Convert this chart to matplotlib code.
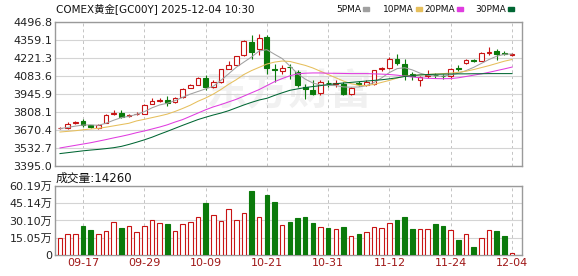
import matplotlib
matplotlib.use('Agg')
import matplotlib.pyplot as plt
from matplotlib.patches import Rectangle
import numpy as np

plt.rcParams['font.family'] = ['DejaVu Sans', 'Noto Sans CJK SC']

# daily candles, index 0 = 09-12 ... 59 = 12-04
opens = [3682, 3686, 3725, 3737, 3705, 3686, 3727, 3795, 3800, 3780,
         3790, 3796, 3872, 3895, 3898, 3885, 3923, 3992, 4018, 4068,
         3999, 4038, 4140, 4171, 4242, 4344, 4288, 4382, 4140, 4122,
         4155, 4114, 4000, 3974, 3953, 4033, 4020, 4025, 3949, 4028,
         4012, 4020, 4135, 4147, 4217, 4178, 4100, 4055, 4085, 4092,
         4087, 4080, 4143, 4180, 4203, 4200, 4262, 4275, 4256, 4242]
highs = [3695, 3731, 3740, 3752, 3712, 3718, 3790, 3821, 3821, 3795,
         3805, 3870, 3915, 3915, 3928, 3920, 3992, 4020, 4075, 4089,
         4050, 4140, 4196, 4240, 4360, 4400, 4408, 4400, 4178, 4170,
         4178, 4130, 4025, 4051, 4050, 4051, 4051, 4040, 4000, 4042,
         4050, 4130, 4150, 4229, 4255, 4210, 4112, 4085, 4130, 4105,
         4100, 4145, 4165, 4210, 4215, 4265, 4305, 4290, 4275, 4258]
lows = [3676, 3680, 3720, 3693, 3685, 3680, 3722, 3788, 3762, 3772,
        3785, 3790, 3866, 3885, 3854, 3878, 3918, 3988, 4012, 3974,
        3990, 4030, 4135, 4165, 4236, 4217, 4242, 4102, 4038, 4100,
        4064, 4000, 3910, 3936, 3936, 4000, 4000, 3940, 3940, 4008,
        4005, 4015, 4125, 4140, 4170, 4050, 4055, 4010, 4070, 4070,
        4060, 4060, 4125, 4175, 4190, 4195, 4245, 4205, 4242, 4236]
closes = [3688, 3719, 3731, 3710, 3690, 3712, 3783, 3800, 3770, 3783,
          3796, 3865, 3892, 3898, 3880, 3915, 3987, 4012, 4068, 3999,
          4038, 4135, 4171, 4234, 4349, 4267, 4374, 4145, 4128, 4147,
          4150, 4012, 3987, 3949, 4040, 4028, 4033, 3949, 3995, 4024,
          4040, 4127, 4142, 4217, 4185, 4095, 4080, 4078, 4090, 4088,
          4080, 4140, 4138, 4205, 4198, 4260, 4268, 4252, 4250, 4250]
# volume in 万 (10k)
volumes = [15.1, 18.3, 18.3, 25.3, 21.8, 18.3, 21.2, 28.8, 23.8, 25.3,
           20.1, 25.3, 30.5, 28.2, 27.0, 20.9, 27.0, 29.1, 33.2, 45.7,
           34.9, 29.7, 40.1, 30.5, 36.4, 56.1, 32.9, 52.3, 46.5, 26.2,
           28.8, 32.3, 33.2, 27.9, 24.4, 23.6, 22.7, 24.4, 16.6, 18.3,
           20.1, 24.4, 23.6, 27.9, 30.5, 33.2, 22.7, 22.7, 22.7, 27.0,
           25.3, 21.8, 13.1, 18.3, 7.0, 14.8, 21.8, 20.9, 16.6, 1.426]

ma5 = [3681, 3690, 3700, 3708, 3710, 3706, 3722, 3745, 3765, 3775,
       3790, 3810, 3840, 3862, 3875, 3895, 3920, 3945, 3965, 3985,
       4005, 4050, 4100, 4150, 4190, 4229, 4275, 4285, 4250, 4217,
       4160, 4102, 4060, 4030, 4015, 4012, 4010, 4000, 3998, 4000,
       4010, 4035, 4070, 4110, 4140, 4147, 4130, 4105, 4090, 4083,
       4083, 4092, 4105, 4125, 4150, 4180, 4210, 4235, 4250, 4252]
ma10 = [3655, 3660, 3665, 3672, 3678, 3683, 3692, 3702, 3712, 3722,
        3740, 3752, 3765, 3778, 3792, 3812, 3835, 3860, 3890, 3915,
        3945, 3980, 4020, 4055, 4095, 4125, 4150, 4175, 4190, 4198,
        4195, 4180, 4165, 4145, 4120, 4095, 4070, 4045, 4025, 4012,
        4010, 4020, 4035, 4050, 4068, 4083, 4088, 4092, 4096, 4099,
        4102, 4106, 4112, 4120, 4133, 4148, 4163, 4180, 4197, 4210]
ma20 = [3533, 3543, 3553, 3563, 3573, 3585, 3597, 3610, 3622, 3635,
        3650, 3663, 3678, 3693, 3710, 3731, 3750, 3775, 3800, 3825,
        3847, 3865, 3885, 3905, 3930, 3955, 3980, 4010, 4040, 4064,
        4085, 4100, 4105, 4107, 4107, 4105, 4104, 4103, 4102, 4102,
        4102, 4100, 4098, 4095, 4090, 4082, 4076, 4070, 4066, 4064,
        4063, 4064, 4070, 4080, 4090, 4100, 4112, 4125, 4138, 4152]
ma30 = [3490, 3497, 3504, 3511, 3517, 3522, 3528, 3535, 3545, 3560,
        3577, 3595, 3615, 3638, 3660, 3683, 3706, 3728, 3750, 3768,
        3785, 3800, 3818, 3840, 3862, 3882, 3900, 3913, 3935, 3955,
        3974, 3985, 3995, 4003, 4010, 4018, 4024, 4030, 4035, 4040,
        4045, 4050, 4055, 4062, 4070, 4080, 4087, 4092, 4095, 4097,
        4098, 4099, 4100, 4100, 4101, 4101, 4102, 4102, 4102, 4102]

date_pos = [3, 11, 19, 27, 35, 43, 51, 59]
date_labels = ['09-17', '09-29', '10-09', '10-21', '10-31', '11-12', '11-24', '12-04']
price_ticks = [3395.0, 3532.7, 3670.4, 3808.1, 3945.9, 4083.6, 4221.3, 4359.1, 4496.8]
vol_ticks = [0, 15.05, 30.10, 45.14, 60.19]
vol_labels = ['0', '15.05万', '30.10万', '45.14万', '60.19万']

RED = '#c81414'
GREEN = '#0b7a0b'
MA_COLORS = ['#a0a0a0', '#e6bf5c', '#e03ce0', '#006633']

o = np.array(opens, float)
h = np.array(highs, float)
l = np.array(lows, float)
c = np.array(closes, float)
x = np.arange(len(o))
up = c >= o
cols = np.where(up, RED, GREEN)

fig = plt.figure(figsize=(5.78, 2.76), dpi=100)
W, H = 578.0, 276.0
ax = fig.add_axes([55 / W, 1 - 166 / H, 467 / W, 144 / H])
axv = fig.add_axes([55 / W, 1 - 255 / H, 467 / W, 69 / H])

for a in (ax, axv):
    a.set_xlim(-0.65, 60.3)
    a.set_xticks(date_pos)
    a.grid(axis='x', color='#c4c4c4', lw=0.7, ls=(0, (3, 3)))
    a.grid(axis='y', color='#d4d4d4', lw=0.8, ls='-')
    a.set_axisbelow(True)
    a.tick_params(length=0, labelsize=8, pad=2)
    for s in a.spines.values():
        s.set_color('#9a9a9a')
        s.set_linewidth(1.0)

# watermark
ax.text(0.5, 0.52, '东方财富', transform=ax.transAxes, ha='center', va='center',
        fontsize=30, fontweight='bold', color='#f1f1f1', zorder=0,
        family=['Noto Sans CJK SC'])

# candles
ax.vlines(x, l, h, colors=cols, lw=0.8, zorder=2)
body = np.maximum(np.abs(c - o), 1.0)
ax.bar(x, body, bottom=np.minimum(o, c), width=0.62,
       facecolor=np.where(up, 'white', GREEN), edgecolor=cols, lw=0.8, zorder=3)

for ma, col in zip([ma5, ma10, ma20, ma30], MA_COLORS):
    ax.plot(x, ma, color=col, lw=0.75, zorder=4)

ax.set_ylim(3395.0, 4496.8)
ax.set_yticks(price_ticks)
ax.set_yticklabels(['%.1f' % v for v in price_ticks], color='#222222')
ax.set_xticklabels([])

# volume
axv.bar(x, volumes, width=0.6, facecolor=np.where(up, 'white', GREEN),
        edgecolor=cols, lw=0.8, zorder=3)
axv.set_ylim(0, 60.19)
axv.set_yticks(vol_ticks)
axv.set_yticklabels(vol_labels, color='#222222')
axv.set_xticklabels(date_labels, color='#a01818', fontsize=8)

# titles / legend
fig.text(56 / W, 1 - 9 / H, 'COMEX黄金[GC00Y] 2025-12-04 10:30', fontsize=7.5,
         va='center', ha='left', color='#111111')
fig.text(56 / W, 1 - 178 / H, '成交量:14260', fontsize=8.5, va='center',
         ha='left', color='#111111')
leg = [('5PMA', 363), ('10PMA', 416), ('20PMA', 457), ('30PMA', 508)]
for (name, mx), col in zip(leg, MA_COLORS):
    fig.text((mx - 2) / W, 1 - 9 / H, name, fontsize=6.5, va='center', ha='right',
             color='#111111')
    fig.patches.append(Rectangle((mx / W, 1 - 10.5 / H), 6 / W, 3 / H,
                                 transform=fig.transFigure, color=col))

fig.savefig('out.png', dpi=100)
